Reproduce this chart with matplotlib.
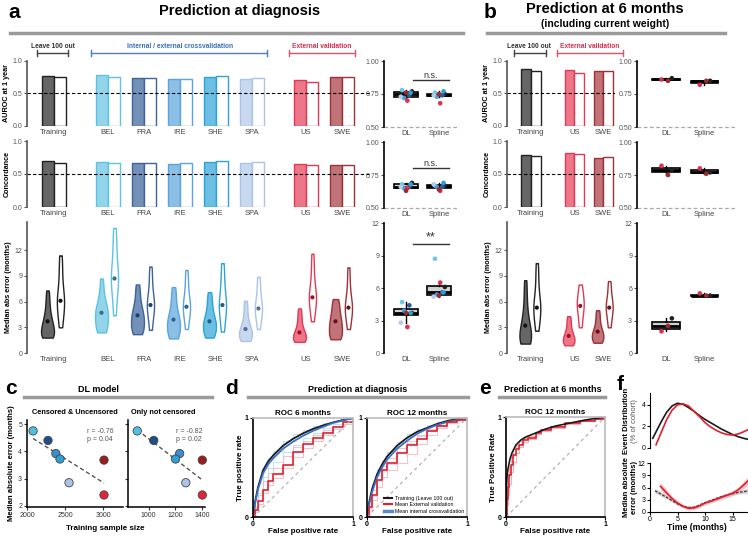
import numpy as np
import matplotlib.pyplot as plt
from matplotlib.lines import Line2D

plt.rcParams['font.family'] = ['Liberation Sans', 'DejaVu Sans']

# ---------------- data ----------------
cohorts_a = ['Training', 'BEL', 'FRA', 'IRE', 'SHE', 'SPA', 'US', 'SWE']
auroc_dl_a = [0.77, 0.78, 0.74, 0.72, 0.76, 0.73, 0.70, 0.76]
auroc_sp_a = [0.75, 0.76, 0.74, 0.73, 0.77, 0.74, 0.68, 0.75]
conc_dl_a = [0.69, 0.68, 0.66, 0.65, 0.68, 0.66, 0.65, 0.63]
conc_sp_a = [0.67, 0.67, 0.66, 0.66, 0.69, 0.68, 0.63, 0.64]
mae_dl_a = [3.7, 4.7, 4.4, 3.9, 3.7, 2.8, 2.4, 3.7]
mae_sp_a = [6.1, 8.7, 5.6, 5.4, 5.6, 5.2, 6.5, 5.3]

# per-patient error samples
mae_dl_samples_a = [
    [1.8, 1.9, 2.0, 2.1, 2.3, 2.5, 2.8, 3.1, 3.5, 3.7, 4.1, 4.7, 5.4, 6.3, 7.3],
    [2.4, 2.6, 2.9, 3.3, 3.8, 4.3, 4.6, 4.8, 5.1, 5.6, 6.3, 7.2, 8.7],
    [2.2, 2.4, 2.7, 3.0, 3.4, 3.8, 4.2, 4.4, 4.8, 5.3, 6.0, 7.0, 8.0],
    [1.7, 1.9, 2.2, 2.6, 3.0, 3.4, 3.7, 3.9, 4.3, 4.9, 5.7, 6.7, 7.7],
    [1.8, 2.0, 2.3, 2.6, 3.0, 3.3, 3.6, 3.7, 4.1, 4.7, 5.4, 6.2, 7.1],
    [1.4, 1.5, 1.7, 1.9, 2.1, 2.4, 2.6, 2.8, 3.1, 3.6, 4.3, 5.2, 6.1],
    [1.3, 1.4, 1.5, 1.6, 1.8, 2.0, 2.2, 2.4, 2.7, 3.2, 3.8, 4.5, 5.2],
    [1.6, 1.8, 2.0, 2.3, 2.7, 3.1, 3.5, 3.7, 4.1, 4.6, 5.2, 5.8, 6.3],
]
mae_sp_samples_a = [
    [3.0, 4.0, 5.0, 5.6, 6.1, 6.5, 7.2, 8.5, 10.0, 11.4],
    [4.4, 6.0, 7.5, 8.3, 8.7, 9.1, 10.0, 11.5, 13.0, 14.6],
    [2.7, 3.8, 4.7, 5.3, 5.6, 5.9, 6.5, 7.5, 8.8, 10.1],
    [2.8, 3.8, 4.6, 5.1, 5.4, 5.7, 6.3, 7.2, 8.4, 9.7],
    [2.5, 3.6, 4.6, 5.2, 5.6, 6.0, 6.7, 7.8, 9.1, 10.5],
    [2.8, 3.7, 4.4, 4.9, 5.2, 5.5, 6.0, 6.8, 7.8, 8.9],
    [3.7, 4.8, 5.7, 6.2, 6.5, 6.8, 7.5, 8.6, 10.0, 11.6],
    [2.8, 3.8, 4.5, 5.0, 5.3, 5.6, 6.2, 7.1, 8.4, 10.0],
]

cohorts_b = ['Training', 'US', 'SWE']
auroc_dl_b = [0.87, 0.86, 0.85]
auroc_sp_b = [0.85, 0.82, 0.85]
conc_dl_b = [0.79, 0.82, 0.75]
conc_sp_b = [0.77, 0.80, 0.76]
mae_dl_b = [3.2, 2.0, 2.5]
mae_sp_b = [5.3, 5.5, 5.3]
mae_dl_samples_b = [
    [1.1, 1.2, 1.3, 1.5, 1.8, 2.1, 2.5, 3.0, 3.2, 3.8, 4.6, 5.6, 7.0, 8.5],
    [0.9, 1.0, 1.1, 1.3, 1.5, 1.7, 1.9, 2.0, 2.3, 2.7, 3.2, 3.8, 4.3],
    [1.2, 1.3, 1.5, 1.7, 1.9, 2.1, 2.3, 2.5, 2.8, 3.2, 3.8, 4.4, 5.0],
]
mae_sp_samples_b = [
    [2.6, 3.5, 4.4, 5.0, 5.3, 5.7, 6.4, 7.5, 9.0, 10.5],
    [3.0, 3.8, 4.5, 5.1, 5.5, 5.8, 6.2, 6.7, 7.3, 8.0],
    [3.0, 3.8, 4.5, 5.0, 5.3, 5.6, 6.0, 6.6, 7.5, 8.4],
]

# panel c
c_cohorts = ['BEL', 'FRA', 'IRE', 'SHE', 'SPA', 'SWE', 'US']
c_size_all = [2080, 2276, 2380, 2434, 2553, 3013, 3013]
c_size_uncens = [915, 1038, 1231, 1200, 1277, 1400, 1400]
c_mae = [4.75, 4.4, 3.92, 3.72, 2.85, 3.68, 2.4]

# ROC curves
roc_fpr = [0, 0.02, 0.05, 0.1, 0.15, 0.2, 0.3, 0.4, 0.5, 0.6, 0.7, 0.8, 0.9, 1.0]
roc6_train = [0, 0.15, 0.30, 0.47, 0.56, 0.62, 0.72, 0.79, 0.845, 0.89, 0.925, 0.955, 0.98, 1.0]
roc6_int = [0, 0.13, 0.28, 0.44, 0.53, 0.59, 0.69, 0.76, 0.82, 0.87, 0.91, 0.95, 0.975, 1.0]
roc6_ext = [0, 0.07, 0.16, 0.27, 0.36, 0.43, 0.53, 0.66, 0.74, 0.80, 0.85, 0.91, 0.96, 1.0]
roc6_int_a = [0, 0.18, 0.34, 0.50, 0.60, 0.67, 0.77, 0.84, 0.88, 0.92, 0.95, 0.97, 0.99, 1.0]
roc6_int_b = [0, 0.10, 0.24, 0.40, 0.49, 0.56, 0.66, 0.73, 0.80, 0.85, 0.90, 0.94, 0.97, 1.0]
roc6_ext_a = [0, 0.10, 0.22, 0.36, 0.44, 0.50, 0.62, 0.71, 0.77, 0.83, 0.88, 0.92, 0.96, 1.0]
roc6_ext_b = [0, 0.05, 0.13, 0.24, 0.32, 0.39, 0.50, 0.61, 0.70, 0.77, 0.83, 0.89, 0.94, 1.0]
roc12_train = [0, 0.14, 0.28, 0.43, 0.53, 0.61, 0.72, 0.80, 0.86, 0.90, 0.94, 0.97, 0.99, 1.0]
roc12_int = [0, 0.12, 0.25, 0.40, 0.50, 0.58, 0.69, 0.77, 0.84, 0.89, 0.93, 0.96, 0.98, 1.0]
roc12_ext = [0, 0.10, 0.22, 0.37, 0.47, 0.55, 0.65, 0.73, 0.79, 0.87, 0.92, 0.96, 0.98, 1.0]
roc12_int_a = [0, 0.18, 0.33, 0.48, 0.58, 0.66, 0.76, 0.84, 0.89, 0.93, 0.96, 0.98, 0.99, 1.0]
roc12_int_b = [0, 0.09, 0.21, 0.36, 0.46, 0.54, 0.66, 0.75, 0.82, 0.87, 0.92, 0.95, 0.98, 1.0]
roc12_ext_a = [0, 0.13, 0.27, 0.42, 0.52, 0.60, 0.70, 0.77, 0.83, 0.89, 0.93, 0.96, 0.99, 1.0]
roc12_ext_b = [0, 0.07, 0.17, 0.30, 0.40, 0.47, 0.55, 0.64, 0.74, 0.83, 0.90, 0.95, 0.98, 1.0]

roce_fpr_train = [0, 0.005, 0.01, 0.02, 0.04, 0.06, 0.1, 0.15, 0.2, 0.3, 0.4, 0.5, 0.6, 0.7, 0.8, 0.9, 1.0]
roce_train = [0, 0.30, 0.40, 0.48, 0.58, 0.64, 0.72, 0.77, 0.80, 0.84, 0.88, 0.91, 0.93, 0.95, 0.97, 0.985, 1.0]
roce_fpr_ext = [0, 0.01, 0.02, 0.03, 0.05, 0.07, 0.1, 0.13, 0.17, 0.22, 0.3, 0.35, 0.45, 0.6, 0.75, 0.9, 1.0]
roce_ext = [0, 0.18, 0.30, 0.42, 0.52, 0.62, 0.68, 0.72, 0.77, 0.79, 0.84, 0.87, 0.90, 0.94, 0.96, 0.98, 1.0]
roce_ext_a = [0, 0.25, 0.40, 0.50, 0.60, 0.68, 0.72, 0.76, 0.79, 0.81, 0.85, 0.88, 0.91, 0.95, 0.97, 0.99, 1.0]
roce_ext_b = [0, 0.12, 0.22, 0.33, 0.45, 0.55, 0.64, 0.70, 0.75, 0.78, 0.83, 0.86, 0.89, 0.93, 0.96, 0.98, 1.0]

# panel f
f_time_train = [0.5, 1, 2, 3, 4, 5, 6, 7, 8, 9, 10, 11, 12, 13, 14, 15, 16, 17, 18]
f_dist_train = [0.9, 1.4, 2.4, 3.3, 3.9, 4.15, 4.05, 3.75, 3.4, 3.0, 2.65, 2.35, 2.05, 1.75, 1.5, 1.25, 1.05, 0.9, 0.78]
f_time_ext = [1.1, 2, 3, 4, 5, 6, 7, 8, 9, 10, 11, 12, 13, 14, 15, 16, 17, 18]
f_dist_ext = [0.3, 1.4, 2.6, 3.5, 4.0, 4.1, 3.9, 3.4, 2.9, 2.35, 1.95, 1.65, 1.4, 1.25, 1.2, 1.3, 1.5, 1.75]
f_mae_time_train = [0.9, 2, 3, 4, 5, 6, 7, 8, 9, 10, 11, 12, 13, 14, 15, 16, 17, 18]
f_mae_train = [5.2, 4.4, 3.6, 2.8, 2.0, 1.4, 1.1, 1.2, 1.7, 2.3, 2.8, 3.3, 3.8, 4.2, 4.5, 4.8, 5.0, 5.2]
f_mae_train_err = [0.6, 0.5, 0.4, 0.35, 0.3, 0.3, 0.3, 0.3, 0.3, 0.3, 0.3, 0.3, 0.35, 0.35, 0.4, 0.45, 0.5, 0.6]
f_mae_time_ext = [1.9, 3, 4, 5, 6, 7, 8, 9, 10, 11, 12, 13, 14, 15, 16, 17, 18]
f_mae_ext = [6.3, 4.7, 3.3, 2.2, 1.4, 0.9, 1.0, 1.5, 2.2, 2.6, 3.1, 3.6, 4.1, 4.6, 5.4, 6.6, 7.9]
f_mae_ext_err = [1.0, 0.8, 0.6, 0.5, 0.45, 0.45, 0.45, 0.45, 0.45, 0.45, 0.5, 0.5, 0.55, 0.6, 0.7, 0.9, 1.1]

# ---------------- style ----------------
fill_a = ['#666666', '#92d5ea', '#7391b8', '#8cbfe6', '#6cbfe2', '#c8d9ef', '#ee7689', '#c07378']
edge_a = ['#222222', '#5cc3e3', '#3d6399', '#5aa3dd', '#2ea4d6', '#a9c4e8', '#e23a55', '#9e3038']
dot_a = ['#111111', '#2f6f8a', '#1f3f6e', '#2f5f8f', '#1f5f80', '#5a6f90', '#a0102a', '#6a0f18']
pt_a = ['#222222', '#6cc8ea', '#2f5a99', '#4a9ad8', '#2aa0d8', '#b5cce9', '#e0304a', '#9e2a30']
fill_b = [fill_a[0], fill_a[6], fill_a[7]]
edge_b = [edge_a[0], edge_a[6], edge_a[7]]
dot_b = [dot_a[0], dot_a[6], dot_a[7]]
pt_b = [pt_a[0], pt_a[6], pt_a[7]]
c_colors = ['#4ec0e4', '#1f4e8c', '#3a8fd0', '#2f9fd5', '#a9c6e8', '#9b1b1f', '#e3243b']

pos_a = [0, 1.5, 2.5, 3.5, 4.5, 5.5, 7, 8]
pos_b = [0, 1.5, 2.5]
jit_a = [0.18, -0.12, 0.1, -0.06, 0.14, -0.16, 0.04, 0.0]
jit_b = [0.15, -0.12, 0.05]

W, H = 748, 537
fig = plt.figure(figsize=(W / 100, H / 100), dpi=100)


def px_axes(l, t, w, h):
    return fig.add_axes([l / W, 1 - (t + h) / H, w / W, h / H])


def ftext(x, y, s, **kw):
    kw.setdefault('ha', 'center')
    kw.setdefault('va', 'center')
    fig.text(x / W, 1 - y / H, s, **kw)


def fline(x1, x2, y, **kw):
    fig.add_artist(Line2D([x1 / W, x2 / W], [1 - y / H] * 2, **kw))


def bracket(x1, x2, y, color):
    fline(x1, x2, y, color=color, lw=1)
    for x in (x1, x2):
        fig.add_artist(Line2D([x / W] * 2, [1 - (y - 3) / H, 1 - (y + 3) / H], color=color, lw=1))


def style_left(ax, color='#555555'):
    for s in ['top', 'right', 'bottom']:
        ax.spines[s].set_visible(False)
    ax.spines['left'].set_color(color)
    ax.spines['left'].set_linewidth(1.2)
    ax.tick_params(axis='y', labelsize=5, colors='#555555', length=2, width=0.8, pad=1.5)
    ax.tick_params(axis='x', labelsize=5.5, colors='#444444', length=0, pad=2)


def bar_panel(ax, pos, dl, sp, fills, edges, names, xlim, ylabel):
    w = 0.33
    for p, d, s, f, e in zip(pos, dl, sp, fills, edges):
        ax.bar(p - w / 2, d, width=w, color=f, edgecolor=e, lw=1)
        ax.bar(p + w / 2, s, width=w, color='white', edgecolor=e, lw=1)
    ax.axhline(0.5, color='black', ls=(0, (3, 2)), lw=0.8)
    ax.set_xlim(xlim)
    ax.set_ylim(0, 1)
    ax.set_yticks([0, 0.5, 1.0])
    ax.set_yticklabels(['0.0', '0.5', '1.0'])
    ax.set_xticks(pos)
    ax.set_xticklabels(names)
    style_left(ax)
    ax.set_ylabel(ylabel, fontsize=5.2, fontweight='bold', labelpad=1.5)


def violin_panel(ax, pos, off, s_dl, s_sp, m_dl, m_sp, fills, edges, dots, w_dl, w_sp, names, xlim):
    for samples, sgn, filled, wd in [(s_dl, -1, True, w_dl), (s_sp, 1, False, w_sp)]:
        pp = [p + sgn * off for p in pos]
        parts = ax.violinplot(samples, positions=pp, widths=wd, showextrema=False, bw_method=0.5)
        for body, f, e in zip(parts['bodies'], fills, edges):
            body.set_facecolor(f if filled else 'white')
            body.set_edgecolor(e)
            body.set_alpha(1)
            body.set_linewidth(1)
    ax.scatter([p - off for p in pos], m_dl, c=dots, s=9, zorder=3, lw=0)
    ax.scatter([p + off for p in pos], m_sp, c=dots, s=9, zorder=3, lw=0)
    ax.set_xlim(xlim)
    ax.set_ylim(0, 15.3)
    ax.set_yticks([0, 3, 6, 9, 12])
    ax.set_xticks(pos)
    ax.set_xticklabels(names)
    style_left(ax)
    ax.set_ylabel('Median abs error (months)', fontsize=5.2, fontweight='bold', labelpad=1.5)


def box_panel(ax, dl, sp, colors, jit, xlim, ylim, yticks, yticklabels, floor_line):
    ax.boxplot([dl, sp], positions=[0, 1], widths=0.72, patch_artist=True, showfliers=False,
               boxprops=dict(facecolor='#d2d2d2', edgecolor='black', lw=1.2),
               medianprops=dict(color='black', lw=2),
               whiskerprops=dict(color='black', lw=1), capprops=dict(lw=0))
    for k, vals in enumerate([dl, sp]):
        ax.scatter([k + j for j in jit], vals, c=colors, s=11, zorder=3, lw=0)
    if floor_line:
        ax.axhline(ylim[0], color='#aaaaaa', ls=(0, (3, 2)), lw=0.9, clip_on=False)
    ax.set_xlim(xlim)
    ax.set_ylim(ylim)
    ax.set_yticks(yticks)
    ax.set_yticklabels(yticklabels)
    ax.set_xticks([0, 1])
    ax.set_xticklabels(['DL', 'Spline'])
    style_left(ax, 'black')


def signif(ax, y, label, size):
    ax.plot([0.2, 1.3], [y, y], color='#333333', lw=1)
    ax.text(0.75, y, label, ha='center', va='bottom', fontsize=size, color='#333333')


# ---------------- panel a ----------------
ftext(8, 13, 'a', fontsize=15, fontweight='bold', ha='left')
ftext(240, 11, 'Prediction at diagnosis', fontsize=10.5, fontweight='bold')
fline(10, 463, 33, color='#9a9a9a', lw=2.5)
ftext(53, 47, 'Leave 100 out', fontsize=4.8, fontweight='bold', color='#333333')
bracket(37, 68, 53, '#444444')
ftext(180, 47, 'Internal / external crossvalidation', fontsize=4.8, fontweight='bold', color='#3a6fb8')
bracket(91, 267, 53, '#4a7cc8')
ftext(322, 47, 'External validation', fontsize=4.8, fontweight='bold', color='#d9304a')
bracket(289, 355, 53, '#e0506a')

xlim_a = (-0.75, 8.78)
ax = px_axes(27, 61, 343, 65)
bar_panel(ax, pos_a, auroc_dl_a, auroc_sp_a, fill_a, edge_a, cohorts_a, xlim_a, 'AUROC at 1 year')
ax = px_axes(27, 141, 343, 66)
bar_panel(ax, pos_a, conc_dl_a, conc_sp_a, fill_a, edge_a, cohorts_a, xlim_a, 'Concordance')
ax = px_axes(27, 222, 343, 131)
violin_panel(ax, pos_a, 0.18, mae_dl_samples_a, mae_sp_samples_a, mae_dl_a, mae_sp_a,
             fill_a, edge_a, dot_a, 0.36, 0.2, cohorts_a, xlim_a)

xlim_ba = (-0.67, 1.55)
ax = px_axes(384, 61, 73, 66)
box_panel(ax, auroc_dl_a, auroc_sp_a, pt_a, jit_a, xlim_ba, (0.5, 1.0),
          [0.5, 0.75, 1.0], ['0.50', '0.75', '1.00'], True)
signif(ax, 0.856, 'n.s.', 6.5)
ax = px_axes(384, 142, 73, 66)
box_panel(ax, conc_dl_a, conc_sp_a, pt_a, jit_a, xlim_ba, (0.5, 1.0),
          [0.5, 0.75, 1.0], ['0.50', '0.75', '1.00'], True)
signif(ax, 0.80, 'n.s.', 6.5)
ax = px_axes(384, 223, 73, 130)
box_panel(ax, mae_dl_a, mae_sp_a, pt_a, jit_a, xlim_ba, (0, 12),
          [0, 3, 6, 9, 12], ['0', '3', '6', '9', '12'], False)
signif(ax, 10.1, '**', 9)

# ---------------- panel b ----------------
ftext(484, 13, 'b', fontsize=15, fontweight='bold', ha='left')
ftext(605, 9, 'Prediction at 6 months', fontsize=10.5, fontweight='bold')
ftext(605, 24, '(including current weight)', fontsize=7.5, fontweight='bold')
fline(487, 725, 33, color='#9a9a9a', lw=2.5)
ftext(529, 47, 'Leave 100 out', fontsize=4.8, fontweight='bold', color='#333333')
bracket(514, 546, 53, '#444444')
ftext(590, 47, 'External validation', fontsize=4.8, fontweight='bold', color='#d9304a')
bracket(557, 623, 53, '#e0506a')

xlim_b = (-0.83, 2.9)
ax = px_axes(507, 61, 108, 65)
bar_panel(ax, pos_b, auroc_dl_b, auroc_sp_b, fill_b, edge_b, cohorts_b, xlim_b, 'AUROC at 1 year')
ax = px_axes(507, 141, 108, 66)
bar_panel(ax, pos_b, conc_dl_b, conc_sp_b, fill_b, edge_b, cohorts_b, xlim_b, 'Concordance')
ax = px_axes(507, 222, 108, 131)
violin_panel(ax, pos_b, 0.2, mae_dl_samples_b, mae_sp_samples_b, mae_dl_b, mae_sp_b,
             fill_b, edge_b, dot_b, 0.4, 0.24, cohorts_b, xlim_b)

xlim_bb = (-0.76, 1.8)
ax = px_axes(637, 61, 98, 66)
box_panel(ax, auroc_dl_b, auroc_sp_b, pt_b, jit_b, xlim_bb, (0.5, 1.0),
          [0.5, 0.75, 1.0], ['0.50', '0.75', '1.00'], True)
ax = px_axes(637, 142, 98, 66)
box_panel(ax, conc_dl_b, conc_sp_b, pt_b, jit_b, xlim_bb, (0.5, 1.0),
          [0.5, 0.75, 1.0], ['0.50', '0.75', '1.00'], True)
ax = px_axes(637, 223, 98, 130)
box_panel(ax, mae_dl_b, mae_sp_b, pt_b, jit_b, xlim_bb, (0, 12),
          [0, 3, 6, 9, 12], ['0', '3', '6', '9', '12'], False)

# ---------------- panel c ----------------
ftext(5, 388, 'c', fontsize=15, fontweight='bold', ha='left')
ftext(98, 390, 'DL model', fontsize=6.5, fontweight='bold')
fline(24, 212, 397, color='#9a9a9a', lw=2.5)
ftext(75, 413, 'Censored & Uncensored', fontsize=5.3, fontweight='bold')
ftext(163, 413, 'Only not censored', fontsize=5.3, fontweight='bold')
ftext(105, 528, 'Training sample size', fontsize=5.8, fontweight='bold')

for l, w, xs, xlim, xt, txt in [(27, 96, c_size_all, (2000, 3263), [2000, 2500, 3000], 'r = -0.76\np = 0.04'),
                                (128, 77, c_size_uncens, (846, 1420), [1000, 1200, 1400], 'r = -0.82\np = 0.02')]:
    ax = px_axes(l, 420, w, 87)
    slope, icpt = np.polyfit(xs, c_mae, 1)
    xx = np.array([min(xs), max(xs)])
    ax.plot(xx, slope * xx + icpt, color='#555555', ls=(0, (3, 2)), lw=1)
    ax.scatter(xs, c_mae, c=c_colors, s=36, edgecolors='#444444', linewidths=0.6, zorder=3, clip_on=False)
    ax.set_xlim(xlim)
    ax.set_ylim(1.96, 5.15)
    ax.set_xticks(xt)
    ax.set_yticks([2, 3, 4, 5])
    for s in ['top', 'right']:
        ax.spines[s].set_visible(False)
    for s in ['left', 'bottom']:
        ax.spines[s].set_linewidth(1.1)
    ax.tick_params(labelsize=5, colors='#333333', length=2, pad=1.5)
    ax.text(0.62, 0.82, txt, transform=ax.transAxes, fontsize=5, color='#555555', va='center',
            linespacing=1.1)
    if l == 27:
        ax.set_ylabel('Median absolute error (months)', fontsize=5.6, fontweight='bold', labelpad=2)
    else:
        ax.set_yticklabels([])


# ---------------- ROC panels ----------------
def roc_axes(ax, title, ylabel):
    ax.plot([0, 1], [0, 1], color='#aaaaaa', ls=(0, (3, 3)), lw=0.8)
    ax.set_xlim(0, 1)
    ax.set_ylim(0, 1)
    ax.set_xticks([0, 1])
    ax.set_yticks([0, 1])
    ax.set_xticklabels(['0', '1'])
    ax.set_yticklabels(['0', '1'])
    for s in ['top', 'right']:
        ax.spines[s].set_color('#bbbbbb')
    for s in ['top', 'right', 'left', 'bottom']:
        ax.spines[s].set_linewidth(1.2)
    ax.tick_params(labelsize=5, length=2, pad=1)
    for lab in ax.get_xticklabels() + ax.get_yticklabels():
        lab.set_fontweight('bold')
    ax.set_title(title, fontsize=5.8, fontweight='bold', pad=2)
    ax.set_xlabel('False positive rate', fontsize=5.8, fontweight='bold', labelpad=0)
    if ylabel:
        ax.set_ylabel(ylabel, fontsize=5.8, fontweight='bold', labelpad=1)


ftext(232, 389, 'd', fontsize=15, fontweight='bold')
ftext(358, 390, 'Prediction at diagnosis', fontsize=6.5, fontweight='bold')
fline(248, 468, 397, color='#9a9a9a', lw=2.5)

for l, tr, it, ex, ia, ib, ea, eb, title, yl in [
        (253, roc6_train, roc6_int, roc6_ext, roc6_int_a, roc6_int_b, roc6_ext_a, roc6_ext_b, 'ROC 6 months', 'True positive rate'),
        (367, roc12_train, roc12_int, roc12_ext, roc12_int_a, roc12_int_b, roc12_ext_a, roc12_ext_b, 'ROC 12 months', None)]:
    ax = px_axes(l, 418, 100, 99)
    for cv in (ia, ib):
        ax.plot(roc_fpr, cv, color='#b4def2', lw=0.8, alpha=0.8, drawstyle='steps-post')
    for cv in (ea, eb):
        ax.plot(roc_fpr, cv, color='#f6b4be', lw=0.8, alpha=0.8, drawstyle='steps-post')
    ax.plot(roc_fpr, tr, color='#1a1a1a', lw=1.3)
    ax.plot(roc_fpr, it, color='#3a6fc8', lw=1.3)
    ax.plot(roc_fpr, ex, color='#e0202e', lw=1.2, drawstyle='steps-post')
    roc_axes(ax, title, yl)
    if l == 367:
        handles = [Line2D([], [], color='#1a1a1a', lw=1.5), Line2D([], [], color='#e0202e', lw=1.5),
                   Line2D([], [], color='#5a88d0', lw=2.5)]
        ax.legend(handles, ['Training (Leave 100 out)', 'Mean External validation',
                            'Mean internal crossvalidation'],
                  loc='lower right', fontsize=3.8, frameon=False, handlelength=1.6,
                  borderaxespad=0.2, labelspacing=0.3, handletextpad=0.4)

ftext(485, 389, 'e', fontsize=15, fontweight='bold')
ftext(553, 390, 'Prediction at 6 months', fontsize=6.5, fontweight='bold')
fline(499, 605, 397, color='#9a9a9a', lw=2.5)
ax = px_axes(506, 417, 99, 100)
for cv in (roce_ext_a, roce_ext_b):
    ax.plot(roce_fpr_ext, cv, color='#f4a8b4', lw=0.8, alpha=0.9, drawstyle='steps-post')
ax.plot(roce_fpr_ext, roce_ext, color='#e0202e', lw=1.2, drawstyle='steps-post')
ax.plot(roce_fpr_train, roce_train, color='#1a1a1a', lw=1.2)
roc_axes(ax, 'ROC 12 months', 'True Positive Rate')

# ---------------- panel f ----------------
ftext(620, 385, 'f', fontsize=15, fontweight='bold')
ax = px_axes(650, 393, 98, 55)
ax.plot(f_time_train, f_dist_train, color='#1a1a1a', lw=1.2)
ax.plot(f_time_ext, f_dist_ext, color='#e0202e', lw=1.2)
ax.set_xlim(0, 17.8)
ax.set_ylim(0, 5.1)
ax.set_yticks([0, 2, 4])
ax.set_xticks([])
for s in ['top', 'right', 'bottom']:
    ax.spines[s].set_visible(False)
ax.tick_params(labelsize=5, length=2, pad=1)
ftext(627, 421, 'Event Distribution', fontsize=5.5, fontweight='bold', rotation=90)
ftext(634, 421, '(% of cohort)', fontsize=5.5, color='#555555', rotation=90)

ax = px_axes(650, 463, 98, 49)
ax.fill_between(f_mae_time_train, np.array(f_mae_train) - np.array(f_mae_train_err),
                np.array(f_mae_train) + np.array(f_mae_train_err), color='#bbbbbb', alpha=0.6, lw=0)
ax.fill_between(f_mae_time_ext, np.array(f_mae_ext) - np.array(f_mae_ext_err),
                np.array(f_mae_ext) + np.array(f_mae_ext_err), color='#f4a0a8', alpha=0.6, lw=0)
ax.plot(f_mae_time_train, f_mae_train, color='#444444', ls=(0, (2, 1)), lw=1)
ax.plot(f_mae_time_ext, f_mae_ext, color='#e0202e', lw=1.2)
ax.set_xlim(0, 17.8)
ax.set_ylim(0, 12)
ax.set_yticks([0, 3, 6, 9, 12])
ax.set_xticks([0, 5, 10, 15])
for s in ['top', 'right']:
    ax.spines[s].set_visible(False)
ax.tick_params(labelsize=5, length=2, pad=1)
ftext(627, 487, 'Median absolute', fontsize=5.5, fontweight='bold', rotation=90)
ftext(634, 487, 'error (months)', fontsize=5.5, fontweight='bold', rotation=90)
ftext(697, 528, 'Time (months)', fontsize=6.2, fontweight='bold')

fig.savefig('out.png', dpi=100)
